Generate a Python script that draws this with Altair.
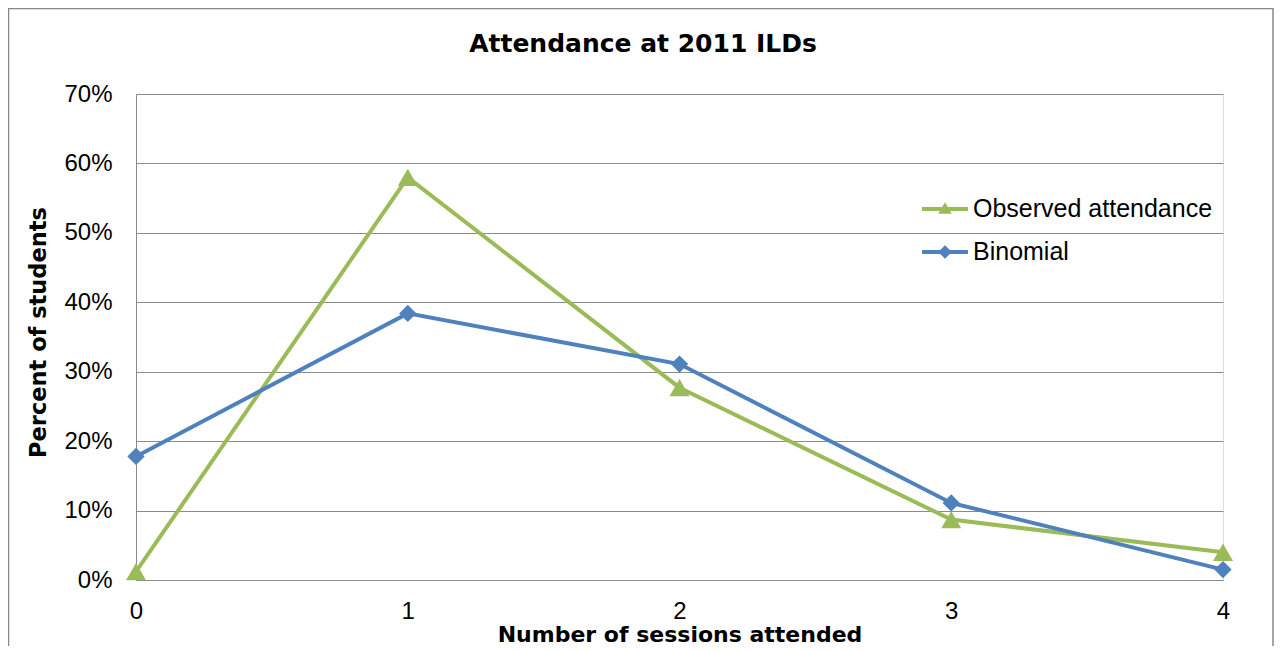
import altair as alt
import pandas as pd

# ---- data ----
sessions = [0, 1, 2, 3, 4]
observed = [1.2, 58.0, 27.7, 8.7, 4.0]
binomial = [17.8, 38.4, 31.1, 11.1, 1.5]
series_names = ["Observed attendance", "Binomial"]
series_colors = ["#9BBB59", "#4F81BD"]
series_shapes = ["triangle-up", "diamond"]
series_sizes = [400, 300]
y_ticks = [0, 10, 20, 30, 40, 50, 60, 70]
x_ticks = [0, 1, 2, 3, 4]
chart_title = "Attendance at 2011 ILDs"

rows = []
for name, vals in zip(series_names, [observed, binomial]):
    for s, v in zip(sessions, vals):
        rows.append({"sessions": s, "percent": v, "series": name})
df = pd.DataFrame(rows)

FONT = "Liberation Sans"
BOLD = "DejaVu Sans"
GRID = "#8a8a8a"

tri_path = "M-1.15,-0.1H1.15V0.1H-1.15Z M0,-0.34L0.34,0.24L-0.34,0.24Z"
dia_path = "M-1.15,-0.1H1.15V0.1H-1.15Z M0,-0.34L0.34,0L0,0.34L-0.34,0Z"
shape_expr = "datum.value === '%s' ? '%s' : '%s'" % (series_names[1], dia_path, tri_path)
fill_expr = "datum.value === '%s' ? '%s' : '%s'" % (series_names[1], series_colors[1], series_colors[0])

x_enc = alt.X(
    "sessions:Q",
    scale=alt.Scale(domain=[0, 4], nice=False, zero=False),
    axis=alt.Axis(
        values=x_ticks, format="d", grid=False, ticks=False, tickSize=0,
        domainColor=GRID, domainWidth=1, labelFlush=False,
        labelFont=FONT, labelFontSize=24, labelColor="black", labelPadding=19,
        title="Number of sessions attended", titleFont=BOLD, titleFontSize=22,
        titleFontWeight="bold", titleColor="black", titleY=61,
        titleBaseline="alphabetic",
    ),
)
y_enc = alt.Y(
    "percent:Q",
    scale=alt.Scale(domain=[0, 70], nice=False),
    axis=alt.Axis(
        values=y_ticks, labelExpr="datum.value + '%'", grid=True,
        gridColor=GRID, gridWidth=1, ticks=False, tickSize=0,
        domainColor=GRID, domainWidth=1, labelFlush=False,
        labelFont=FONT, labelFontSize=24, labelColor="black", labelPadding=24,
        title="Percent of students", titleFont=BOLD, titleFontSize=22.5,
        titleFontWeight="bold", titleColor="black", titleX=-91, titleY=238,
        titleBaseline="alphabetic", titleAlign="center", titleAngle=-90,
    ),
)

color_scale = alt.Scale(domain=series_names, range=series_colors)

lines = alt.Chart(df).mark_line(strokeWidth=4).encode(
    x=x_enc,
    y=y_enc,
    color=alt.Color(
        "series:N", scale=color_scale, sort=series_names,
        legend=alt.Legend(
            title=None, orient="none", legendX=789, legendY=95, padding=0,
            symbolSize=1600, labelFont=FONT, labelFontSize=25, labelLimit=400,
            labelColor="black", labelOffset=8, rowPadding=10,
            symbolType={"expr": shape_expr},
            symbolFillColor={"expr": fill_expr},
            symbolStrokeWidth=0, symbolOpacity=1,
        ),
    ),
    detail="series:N",
    order="sessions:Q",
)

point_layers = []
for name, col, shp, sz in zip(series_names, series_colors, series_shapes, series_sizes):
    point_layers.append(
        alt.Chart(df).transform_filter(alt.datum.series == name)
        .mark_point(filled=True, opacity=1, shape=shp, size=sz, color=col)
        .encode(x="sessions:Q", y="percent:Q")
    )

one = pd.DataFrame({"k": [0]})
frame = alt.Chart(one).mark_rect(
    filled=False, stroke="#888888", strokeWidth=1.5
).encode(
    x=alt.value(-127.5), x2=alt.value(1137), y=alt.value(-85.5), y2=alt.value(620)
)

title = alt.Chart(one).mark_text(
    text=chart_title, font=BOLD, fontSize=25, fontWeight="bold", color="black",
    align="center", baseline="alphabetic",
).encode(x=alt.value(507), y=alt.value(-42))

chart = alt.layer(frame, title, lines, *point_layers).properties(
    width=1087,
    height=486,
    autosize=alt.AutoSizeParams(type="none"),
    padding={"left": 128, "top": 86, "right": 51, "bottom": 66},
).configure_view(stroke=None).configure(background="white")

chart.save("out.html", embed_options={"renderer": "svg", "actions": False})
